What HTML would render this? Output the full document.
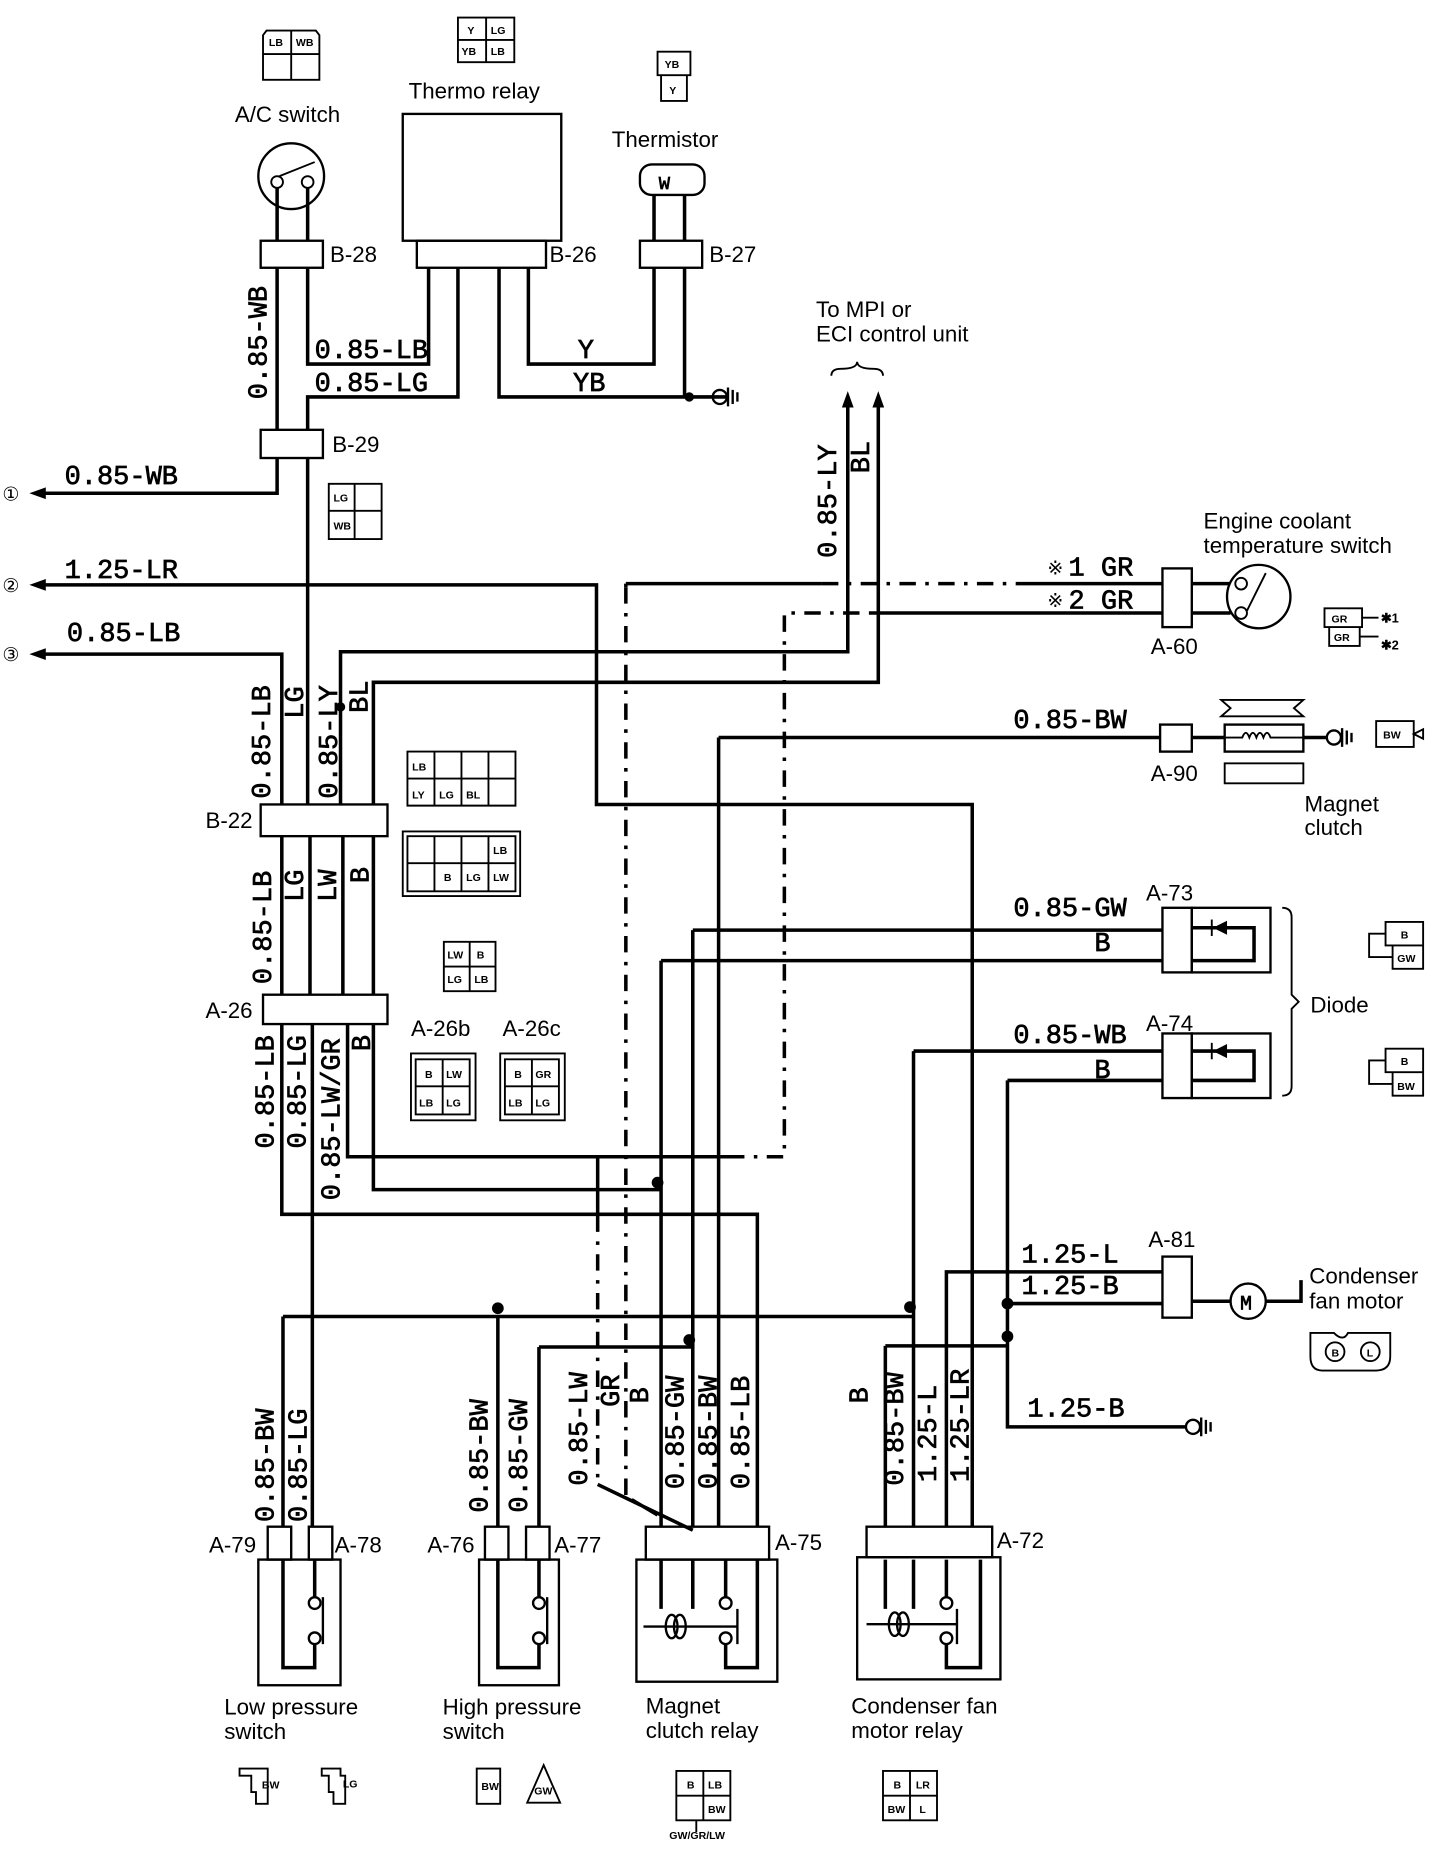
<!DOCTYPE html>
<html><head><meta charset="utf-8"><style>
html,body{margin:0;padding:0;background:#fff;}
svg{display:block;}
.w{fill:none;stroke:#000;stroke-width:3;}
.t{fill:none;stroke:#000;stroke-width:1.6;}
.d{fill:none;stroke:#000;stroke-width:3;stroke-dasharray:14 8 3 8;}
.m{font-family:"Liberation Mono",monospace;font-size:23px;fill:#000;stroke:#000;stroke-width:0.6;}
.s{font-family:"Liberation Sans",sans-serif;font-size:19px;fill:#000;}
.c{font-family:"Liberation Sans",sans-serif;font-size:9px;font-weight:bold;fill:#000;}
</style></head><body>
<svg width="1456" height="1852" viewBox="0 0 1240 1577" preserveAspectRatio="none" xmlns="http://www.w3.org/2000/svg">
<g class="t">
<path d="M224,30 l3,-4 h42 l3,4 v38 h-48 z M248,26 v42 M224,46 h48"/>
<path d="M390,15 h48 v38 h-48 z M414,15 v38 M390,34 h48"/>
<path d="M560,44 h28 v20 h-28 z M563,64 h22 v22 h-22 z"/>
<path d="M280,412 h45 v47 h-45 z M302,412 v47 M280,435 h45"/>
</g>
<g class="c">
<text x="229" y="39">LB</text><text x="252" y="39">WB</text>
<text x="398" y="29">Y</text><text x="418" y="29">LG</text>
<text x="393" y="47">YB</text><text x="418" y="47">LB</text>
<text x="566" y="58">YB</text><text x="570" y="80">Y</text>
<text x="284" y="427">LG</text><text x="284" y="451">WB</text>
</g>
<text class="s" x="200" y="104">A/C switch</text>
<text class="s" x="348" y="84">Thermo relay</text>
<text class="s" x="521" y="125">Thermistor</text>
<circle class="t" cx="248" cy="150" r="28" style="stroke-width:2"/>
<circle class="t" cx="236" cy="155" r="5"/><circle class="t" cx="262" cy="155" r="5"/>
<line class="t" x1="238" y1="150" x2="268" y2="138"/>
<rect class="t" x="343" y="97" width="135" height="108" style="stroke-width:2"/>
<rect class="t" x="355" y="205" width="110" height="23" style="stroke-width:2"/>
<rect class="t" x="545" y="140" width="55" height="26" rx="10" style="stroke-width:2"/>
<text class="m" x="561" y="161" style="font-size:16px">W</text>
<g class="t" style="stroke-width:2">
<rect x="222" y="205" width="53" height="23"/>
<rect x="222" y="366" width="53" height="24"/>
<rect x="545" y="205" width="53" height="23"/>
<rect x="222" y="685" width="108" height="27"/>
<rect x="224" y="847" width="106" height="25"/>
</g>
<text class="s" x="281" y="223">B-28</text><text class="s" x="468" y="223">B-26</text><text class="s" x="604" y="223">B-27</text>
<text class="s" x="283" y="385">B-29</text><text class="s" x="175" y="705">B-22</text><text class="s" x="175" y="867">A-26</text>
<g class="w">
<path d="M236,160 V205 M262,160 V205"/>
<path d="M236,228 V366 M236,390 V420 H35"/>
<path d="M262,228 V310 H365 V228"/>
<path d="M390,228 V338 H262 V366"/>
<path d="M450,228 V310 H557 V228"/>
<path d="M425,228 V338 H620"/>
<path d="M557,166 V205 M583,166 V205 M583,228 V338"/>
<path d="M262,390 V685"/>
<path d="M35,498 H508 V685 H828 V1300"/>
<path d="M35,557 H240 V685"/>
<path d="M290,685 V555 H722 V345"/>
<path d="M318,685 V581 H748 V345"/>
<path d="M240,712 V847 M264,712 V847 M292,712 V847 M318,712 V847"/>
<path d="M240,872 V1034 H645 V1300"/>
<path d="M266,872 V1300"/>
<path d="M296,872 V985 H620"/>
<path d="M318,872 V1013 H563"/>
<path d="M509,985 V1035"/>
<path d="M563,818 H990 M563,818 V1300"/>
<path d="M590,792 H990 M590,792 V1300"/>
<path d="M459,1147 H590 M459,1147 V1300"/>
<path d="M612,628 H988 M612,628 V1300"/>
<path d="M241,1121 H778 M241,1121 V1300 M424,1121 V1300"/>
<path d="M778,895 H990 M778,895 V1300"/>
<path d="M858,920 H990 M858,920 V1215 H1010"/>
<path d="M754,1146 H858 M754,1146 V1300"/>
<path d="M806,1300 V1083 H990 M858,1110 H990"/>
<path d="M1015,497 H1048 M1015,522 H1048"/>
<path d="M533,497 H700 M870,497 H990 M533,497 V500"/>
<path d="M740,522 H990"/>
<path d="M509,1264 L590,1303 M538,1277 L560,1290"/>
<path d="M1015,628 H1043 M1110,628 H1130"/>
<path d="M1015,1108 H1048 M1078,1108 H1108 V1090"/>
</g>
<g class="d">
<path d="M700,497 H870"/>
<path d="M533,500 V1277"/>
<path d="M620,985 H668 V522 H740"/>
<path d="M509,1035 V1264"/>
</g>
<g fill="#000">
<path d="M25,420 l14,-5 v10 z M25,498 l14,-5 v10 z M25,557 l14,-5 v10 z"/>
<path d="M722,333 l-5,14 h10 z M748,333 l-5,14 h10 z"/>
<circle cx="587" cy="338" r="4"/><circle cx="290" cy="602" r="4"/>
<circle cx="560" cy="1007" r="5"/><circle cx="424" cy="1114" r="5"/><circle cx="775" cy="1113" r="5"/>
<circle cx="587" cy="1141" r="5"/><circle cx="858" cy="1110" r="5"/><circle cx="858" cy="1138" r="5"/>
</g>
<g class="s" style="font-size:16px"><text x="2" y="426">①</text><text x="2" y="504">②</text><text x="2" y="563">③</text></g>
<path d="M708,320 q0,-6 8,-6 q14,0 14,-6 q0,6 14,6 q8,0 8,6" class="t"/>
<text class="s" x="695" y="270">To MPI or</text><text class="s" x="695" y="291">ECI control unit</text>
<g class="t" style="stroke-width:2">
<circle cx="613" cy="338" r="6"/><path d="M620,330 v16 M624,332 v12 M628,334 v8"/>
<circle cx="1016" cy="1215" r="6"/><path d="M1023,1207 v16 M1027,1209 v12 M1031,1211 v8"/>
<circle cx="1136" cy="628" r="6"/><path d="M1143,620 v16 M1147,622 v12 M1151,624 v8"/>
</g>
<g class="m">
<text x="268" y="305">0.85-LB</text><text x="268" y="333">0.85-LG</text>
<text x="492" y="305">Y</text><text x="488" y="333">YB</text>
<text x="55" y="412">0.85-WB</text><text x="55" y="492">1.25-LR</text><text x="57" y="546">0.85-LB</text>
<text x="863" y="620">0.85-BW</text><text x="863" y="780">0.85-GW</text><text x="932" y="810">B</text>
<text x="863" y="888">0.85-WB</text><text x="932" y="918">B</text>
<text x="870" y="1075">1.25-L</text><text x="870" y="1102">1.25-B</text><text x="875" y="1206">1.25-B</text>
<text x="910" y="490">1 GR</text><text x="910" y="518">2 GR</text>
</g>
<text class="s" x="892" y="489" style="font-size:16px">※</text><text class="s" x="892" y="517" style="font-size:16px">※</text>
<g class="m">
<text transform="translate(227,340) rotate(-90)">0.85-WB</text>
<text transform="translate(712,475) rotate(-90)">0.85-LY</text>
<text transform="translate(740,403) rotate(-90)">BL</text>
<text transform="translate(230,680) rotate(-90)">0.85-LB</text>
<text transform="translate(258,612) rotate(-90)">LG</text>
<text transform="translate(287,680) rotate(-90)">0.85-LY</text>
<text transform="translate(313,607) rotate(-90)">BL</text>
<text transform="translate(231,838) rotate(-90)">0.85-LB</text>
<text transform="translate(258,768) rotate(-90)">LG</text>
<text transform="translate(286,768) rotate(-90)">LW</text>
<text transform="translate(314,752) rotate(-90)">B</text>
<text transform="translate(233,978) rotate(-90)">0.85-LB</text>
<text transform="translate(260,978) rotate(-90)">0.85-LG</text>
<text transform="translate(289,1022) rotate(-90)">0.85-LW/GR</text>
<text transform="translate(315,895) rotate(-90)">B</text>
<text transform="translate(233,1296) rotate(-90)">0.85-BW</text>
<text transform="translate(261,1296) rotate(-90)">0.85-LG</text>
<text transform="translate(415,1288) rotate(-90)">0.85-BW</text>
<text transform="translate(449,1288) rotate(-90)">0.85-GW</text>
<text transform="translate(500,1265) rotate(-90)">0.85-LW</text>
<text transform="translate(527,1198) rotate(-90)">GR</text>
<text transform="translate(552,1195) rotate(-90)">B</text>
<text transform="translate(582,1268) rotate(-90)">0.85-GW</text>
<text transform="translate(610,1268) rotate(-90)">0.85-BW</text>
<text transform="translate(638,1268) rotate(-90)">0.85-LB</text>
<text transform="translate(739,1195) rotate(-90)">B</text>
<text transform="translate(769,1265) rotate(-90)">0.85-BW</text>
<text transform="translate(797,1262) rotate(-90)">1.25-L</text>
<text transform="translate(825,1262) rotate(-90)">1.25-LR</text>
</g>
<g class="t">
<path d="M347,640 h92 v46 h-92 z M370,640 v46 M393,640 v46 M416,640 v46 M347,663 h92"/>
<path d="M343,708 h100 v55 h-100 z M347,712 h92 v47 h-92 z M370,712 v47 M393,712 v47 M416,712 v47 M347,735 h92"/>
<path d="M378,802 h44 v42 h-44 z M400,802 v42 M378,823 h44"/>
<path d="M350,897 h55 v57 h-55 z M354,902 h46 v47 h-46 z M377,902 v47 M354,925 h46"/>
<path d="M426,897 h55 v57 h-55 z M430,902 h46 v47 h-46 z M453,902 v47 M430,925 h46"/>
</g>
<g class="c">
<text x="351" y="656">LB</text><text x="351" y="680">LY</text><text x="374" y="680">LG</text><text x="397" y="680">BL</text>
<text x="420" y="727">LB</text><text x="378" y="750">B</text><text x="397" y="750">LG</text><text x="420" y="750">LW</text>
<text x="381" y="816">LW</text><text x="406" y="816">B</text><text x="381" y="837">LG</text><text x="404" y="837">LB</text>
<text x="362" y="918">B</text><text x="380" y="918">LW</text><text x="357" y="942">LB</text><text x="380" y="942">LG</text>
<text x="438" y="918">B</text><text x="456" y="918">GR</text><text x="433" y="942">LB</text><text x="456" y="942">LG</text>
</g>
<text class="s" x="350" y="882">A-26b</text><text class="s" x="428" y="882">A-26c</text>
<text class="s" x="1025" y="450">Engine coolant</text><text class="s" x="1025" y="471">temperature switch</text>
<rect class="t" x="990" y="484" width="25" height="50" style="stroke-width:2"/>
<text class="s" x="980" y="557">A-60</text>
<circle class="t" cx="1072" cy="508" r="27" style="stroke-width:2"/>
<circle class="t" cx="1057" cy="497" r="5"/><circle class="t" cx="1057" cy="522" r="5"/>
<line class="t" x1="1062" y1="520" x2="1078" y2="488"/>
<path class="t" d="M1128,518 h32 v16 h-32 z M1132,534 h26 v16 h-26 z M1160,526 h14 M1158,542 h16"/>
<text class="c" x="1134" y="530">GR</text><text class="c" x="1136" y="546">GR</text>
<text class="c" x="1176" y="530" style="font-size:11px">✱1</text><text class="c" x="1176" y="553" style="font-size:11px">✱2</text>
<rect class="t" x="988" y="617" width="27" height="23" style="stroke-width:2"/>
<text class="s" x="980" y="665">A-90</text>
<rect class="t" x="1043" y="617" width="67" height="23" style="stroke-width:2"/>
<path class="t" d="M1043,628 h15 q3,-8 6,0 q3,-8 6,0 q3,-8 6,0 q3,-8 6,0 h28"/>
<path class="t" d="M1040,596 h70 l-8,7 l8,7 h-70 l8,-7 z"/>
<rect class="t" x="1043" y="650" width="67" height="17" style="stroke-width:1.6"/>
<path class="t" d="M1172,614 h32 v22 h-32 z M1204,625 l8,-4 v8 z"/>
<text class="c" x="1178" y="629">BW</text>
<text class="s" x="1111" y="691">Magnet</text><text class="s" x="1111" y="711">clutch</text>
<rect class="t" x="990" y="773" width="25" height="55" style="stroke-width:2"/>
<rect class="t" x="1015" y="773" width="67" height="55" style="stroke-width:2"/>
<path class="w" d="M1015,790 H1068 V818 H1015"/><path d="M1033,790 l12,-6 v12 z" fill="#000"/><line class="t" x1="1032" y1="783" x2="1032" y2="797"/>
<rect class="t" x="990" y="880" width="25" height="55" style="stroke-width:2"/>
<rect class="t" x="1015" y="880" width="67" height="55" style="stroke-width:2"/>
<path class="w" d="M1015,895 H1068 V920 H1015"/><path d="M1033,895 l12,-6 v12 z" fill="#000"/><line class="t" x1="1032" y1="888" x2="1032" y2="902"/>
<text class="s" x="976" y="767">A-73</text><text class="s" x="976" y="878">A-74</text>
<path class="t" d="M1092,773 q8,0 8,8 v66 l6,6 l-6,6 v66 q0,8 -8,8"/>
<text class="s" x="1116" y="862">Diode</text>
<path class="t" d="M1180,785 h32 v20 h-32 z M1186,805 h26 v20 h-26 z M1180,795 h-14 v20 h20"/>
<text class="c" x="1193" y="799">B</text><text class="c" x="1190" y="819">GW</text>
<path class="t" d="M1180,893 h32 v20 h-32 z M1186,913 h26 v20 h-26 z M1180,903 h-14 v20 h20"/>
<text class="c" x="1193" y="907">B</text><text class="c" x="1190" y="928">BW</text>
<text class="s" x="978" y="1062">A-81</text>
<rect class="t" x="990" y="1070" width="25" height="52" style="stroke-width:2"/>
<circle class="t" cx="1063" cy="1108" r="15" style="stroke-width:2"/>
<text class="m" x="1056" y="1115" style="font-size:17px">M</text>
<text class="s" x="1115" y="1093">Condenser</text><text class="s" x="1115" y="1114">fan motor</text>
<path class="t" d="M1116,1135 h20 q8,8 12,0 h36 v20 q0,12 -12,12 h-46 q-10,0 -10,-12 z"/>
<circle class="t" cx="1137" cy="1151" r="8"/><circle class="t" cx="1167" cy="1151" r="8"/>
<text class="c" x="1134" y="1155">B</text><text class="c" x="1164" y="1155">L</text>
<g class="t" style="stroke-width:2">
<rect x="228" y="1300" width="20" height="28"/><rect x="263" y="1300" width="20" height="28"/>
<rect x="220" y="1328" width="70" height="107"/>
<rect x="413" y="1300" width="20" height="28"/><rect x="448" y="1300" width="20" height="28"/>
<rect x="408" y="1328" width="68" height="107"/>
<rect x="550" y="1300" width="105" height="28"/><rect x="542" y="1328" width="120" height="104"/>
<rect x="738" y="1300" width="107" height="26"/><rect x="730" y="1326" width="122" height="104"/>
</g>
<g class="w">
<path d="M241,1328 V1420 H268 V1400 M268,1328 V1360"/>
<path d="M424,1328 V1420 H459 V1400 M459,1328 V1360"/>
<path d="M563,1328 V1370 M590,1328 V1370 M618,1328 V1360 M645,1328 V1420 H618 V1400"/>
<path d="M754,1328 V1370 M778,1328 V1370 M806,1328 V1360 M835,1328 V1420 H806 V1400"/>
</g>
<g class="t" style="stroke-width:2">
<circle cx="268" cy="1365" r="5"/><circle cx="268" cy="1395" r="5"/><line x1="275" y1="1360" x2="275" y2="1400"/>
<circle cx="459" cy="1365" r="5"/><circle cx="459" cy="1395" r="5"/><line x1="466" y1="1360" x2="466" y2="1400"/>
<circle cx="618" cy="1365" r="5"/><circle cx="618" cy="1395" r="5"/><line x1="548" y1="1385" x2="628" y2="1385"/><line x1="628" y1="1370" x2="628" y2="1400"/>
<ellipse cx="572" cy="1385" rx="5" ry="10"/><ellipse cx="579" cy="1385" rx="5" ry="10"/>
<circle cx="806" cy="1365" r="5"/><circle cx="806" cy="1395" r="5"/><line x1="738" y1="1383" x2="815" y2="1383"/><line x1="815" y1="1370" x2="815" y2="1400"/>
<ellipse cx="762" cy="1383" rx="5" ry="10"/><ellipse cx="769" cy="1383" rx="5" ry="10"/>
</g>
<text class="s" x="178" y="1322">A-79</text><text class="s" x="285" y="1322">A-78</text>
<text class="s" x="364" y="1322">A-76</text><text class="s" x="472" y="1322">A-77</text>
<text class="s" x="660" y="1320">A-75</text><text class="s" x="849" y="1318">A-72</text>
<text class="s" x="191" y="1460">Low pressure</text><text class="s" x="191" y="1481">switch</text>
<text class="s" x="377" y="1460">High pressure</text><text class="s" x="377" y="1481">switch</text>
<text class="s" x="550" y="1459">Magnet</text><text class="s" x="550" y="1480">clutch relay</text>
<text class="s" x="725" y="1459">Condenser fan</text><text class="s" x="725" y="1480">motor relay</text>
<g class="t">
<path d="M204,1506 h24 v30 h-10 v-10 h-4 v-14 h-10 z"/>
<path d="M274,1506 h16 v6 h4 v24 h-10 v-10 h-4 v-14 h-6 z"/>
<path d="M406,1506 h20 v30 h-20 z"/>
<path d="M463,1503 l-14,32 h28 z"/>
<path d="M576,1508 h46 v42 h-46 z M599,1508 v42 M576,1529 h46 M593,1550 v10"/>
<path d="M752,1508 h46 v42 h-46 z M775,1508 v42 M752,1529 h46"/>
</g>
<g class="c">
<text x="223" y="1523">BW</text><text x="292" y="1522">LG</text><text x="410" y="1524">BW</text><text x="455" y="1528">GW</text>
<text x="585" y="1523">B</text><text x="603" y="1523">LB</text><text x="603" y="1544">BW</text><text x="570" y="1566">GW/GR/LW</text>
<text x="761" y="1523">B</text><text x="780" y="1523">LR</text><text x="756" y="1544">BW</text><text x="783" y="1544">L</text>
</g>
</svg>
</body></html>
